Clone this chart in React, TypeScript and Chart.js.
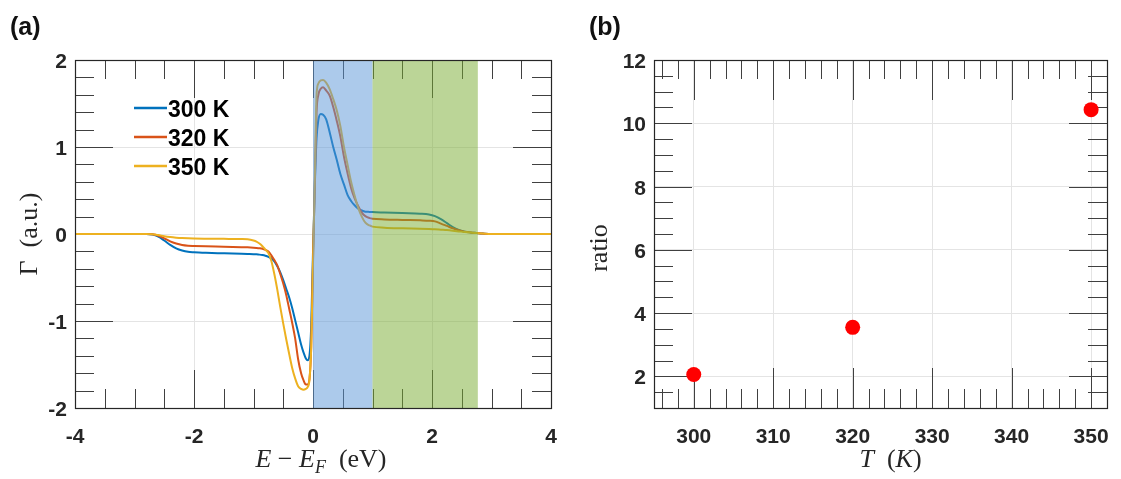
import React, { useEffect, useRef } from "react";
import { Chart, registerables } from "chart.js";
Chart.register(...registerables);

// ---------- data: panel (a) ----------
const energy = [
  -4, -3, -2.8, -2.7, -2.6, -2.5, -2.4, -2.3, -2.2, -2.1, -2.0, -1.8, -1.5, -1.2, -1.1,
  -1.0, -0.95, -0.9, -0.85, -0.8, -0.75, -0.7, -0.65, -0.6, -0.55, -0.5, -0.45, -0.4,
  -0.35, -0.3, -0.25, -0.2, -0.16, -0.12, -0.09, -0.06, -0.03, 0.0, 0.03, 0.06, 0.09,
  0.13, 0.17, 0.22, 0.28, 0.34, 0.4, 0.46, 0.52, 0.58, 0.64, 0.7, 0.76, 0.82, 0.88,
  0.95, 1.0, 1.2, 1.5, 1.8, 1.95, 2.05, 2.15, 2.25, 2.35, 2.45, 2.55, 2.65, 2.75, 2.85,
  3.0, 3.5, 4.0,
];
const gamma300 = [
  0, 0, 0, -0.005, -0.03, -0.075, -0.125, -0.165, -0.19, -0.205, -0.21, -0.216, -0.222, -0.228, -0.23,
  -0.232, -0.234, -0.237, -0.242, -0.25, -0.262, -0.28, -0.315, -0.37, -0.44, -0.53, -0.63, -0.73,
  -0.85, -0.99, -1.13, -1.27, -1.36, -1.43, -1.45, -1.4, -1.05, -0.2, 0.55, 1.1, 1.31,
  1.38, 1.37, 1.32, 1.17, 1.0, 0.85, 0.69, 0.57, 0.45, 0.38, 0.33, 0.29, 0.27, 0.257,
  0.254, 0.252, 0.247, 0.24, 0.234, 0.225, 0.205, 0.17, 0.125, 0.08, 0.048, 0.027, 0.018, 0.012, 0.006,
  0, 0, 0,
];
const gamma320 = [
  0, 0, 0, -0.004, -0.02, -0.05, -0.085, -0.11, -0.127, -0.135, -0.138, -0.142, -0.146, -0.151, -0.153,
  -0.157, -0.16, -0.164, -0.17, -0.182, -0.2, -0.245, -0.3, -0.36, -0.46, -0.57, -0.7, -0.86,
  -1.02, -1.2, -1.44, -1.6, -1.68, -1.73, -1.73, -1.67, -1.3, -0.3, 0.55, 1.4, 1.6,
  1.67, 1.686, 1.65, 1.59, 1.46, 1.3, 1.12, 0.89, 0.7, 0.53, 0.41, 0.32, 0.245, 0.205,
  0.183, 0.176, 0.168, 0.162, 0.157, 0.153, 0.145, 0.12, 0.093, 0.066, 0.043, 0.027, 0.018, 0.012, 0.006,
  0, 0, 0,
];
const gamma350 = [
  0, 0, 0, -0.002, -0.012, -0.025, -0.035, -0.042, -0.047, -0.05, -0.052, -0.054, -0.056, -0.057, -0.06,
  -0.075, -0.088, -0.11, -0.14, -0.18, -0.22, -0.31, -0.46, -0.64, -0.84, -1.03, -1.21, -1.38,
  -1.54, -1.66, -1.75, -1.78, -1.79, -1.78, -1.76, -1.68, -1.3, -0.35, 0.6, 1.6, 1.73,
  1.765, 1.77, 1.74, 1.665, 1.55, 1.42, 1.24, 1.0, 0.8, 0.6, 0.44, 0.3, 0.2, 0.13,
  0.098, 0.085, 0.072, 0.065, 0.061, 0.058, 0.055, 0.05, 0.045, 0.038, 0.03, 0.022, 0.016, 0.011, 0.006,
  0, 0, 0,
];
const seriesLabels = ["300 K", "320 K", "350 K"];
const seriesColors = ["#0072BD", "#D95319", "#EDB120"];
const bandStarts = [0, 1.0];
const bandEnds = [1.0, 2.77];
const bandColors = ["rgba(90,150,215,0.5)", "rgba(119,172,48,0.5)"];
const xTicksA = [-4, -2, 0, 2, 4];
const yTicksA = [-2, -1, 0, 1, 2];

// ---------- data: panel (b) ----------
const temps = [300, 320, 350];
const ratios = [2.06, 3.55, 10.43];
const xTicksB = [300, 310, 320, 330, 340, 350];
const yTicksB = [2, 4, 6, 8, 10, 12];

const TICK_FONT = 'bold 21px "Liberation Sans", Arial, sans-serif';
const DARK = "#262626";

type Seg = { t: string; it?: boolean; sub?: boolean };
function drawRich(ctx: CanvasRenderingContext2D, segs: Seg[], x: number, y: number, size: number, rotate = false) {
  const fontFor = (s: Seg) =>
    `${s.it ? "italic " : ""}${s.sub ? Math.round(size * 0.7) : size}px "Liberation Serif", "Times New Roman", serif`;
  let total = 0;
  const widths = segs.map((s) => {
    ctx.font = fontFor(s);
    const w = ctx.measureText(s.t).width;
    total += w;
    return w;
  });
  ctx.save();
  ctx.translate(x, y);
  if (rotate) ctx.rotate(-Math.PI / 2);
  ctx.textAlign = "left";
  ctx.textBaseline = "alphabetic";
  ctx.fillStyle = DARK;
  let cx = -total / 2;
  segs.forEach((s, i) => {
    ctx.font = fontFor(s);
    ctx.fillText(s.t, cx, s.sub ? size * 0.22 : 0);
    cx += widths[i];
  });
  ctx.restore();
}

function drawTicksAll(chart: any, xStep: number, yStep: number, xMajorLen: number, yMajorLen: number, minorLen: number) {
  const { ctx, chartArea: a, scales } = chart;
  const xs = scales.x;
  const ys = scales.y;
  ctx.save();
  ctx.strokeStyle = "#404040";
  ctx.lineWidth = 1;
  const xMaj = xs.ticks.map((t: any) => t.value);
  const yMaj = ys.ticks.map((t: any) => t.value);
  const isMaj = (arr: number[], v: number) => arr.some((m) => Math.abs(m - v) < 1e-6);
  ctx.beginPath();
  const x0 = Math.ceil(xs.min / xStep - 1e-9);
  for (let i = x0; i * xStep <= xs.max + 1e-9; i++) {
    const v = i * xStep;
    const px = Math.round(xs.getPixelForValue(v)) + 0.5;
    const len = isMaj(xMaj, v) ? xMajorLen : minorLen;
    ctx.moveTo(px, a.bottom);
    ctx.lineTo(px, a.bottom - len);
    ctx.moveTo(px, a.top);
    ctx.lineTo(px, a.top + len);
  }
  const y0 = Math.ceil(ys.min / yStep - 1e-9);
  for (let i = y0; i * yStep <= ys.max + 1e-9; i++) {
    const v = i * yStep;
    const py = Math.round(ys.getPixelForValue(v)) + 0.5;
    const len = isMaj(yMaj, v) ? yMajorLen : minorLen;
    ctx.moveTo(a.left, py);
    ctx.lineTo(a.left + len, py);
    ctx.moveTo(a.right, py);
    ctx.lineTo(a.right - len, py);
  }
  ctx.stroke();
  ctx.restore();
}

function drawFrame(chart: any) {
  const { ctx, chartArea: a } = chart;
  ctx.save();
  ctx.strokeStyle = DARK;
  ctx.lineWidth = 1.2;
  ctx.strokeRect(Math.round(a.left) + 0.5, Math.round(a.top) + 0.5, Math.round(a.right - a.left), Math.round(a.bottom - a.top));
  ctx.restore();
}

function drawTickLabels(chart: any, xGap: number, yGap: number) {
  const { ctx, chartArea: a, scales } = chart;
  ctx.save();
  ctx.font = TICK_FONT;
  ctx.fillStyle = DARK;
  ctx.textBaseline = "alphabetic";
  ctx.textAlign = "center";
  scales.x.ticks.forEach((t: any) => {
    ctx.fillText(String(t.value), scales.x.getPixelForValue(t.value), a.bottom + xGap);
  });
  ctx.textAlign = "right";
  scales.y.ticks.forEach((t: any) => {
    ctx.fillText(String(t.value), a.left - yGap, scales.y.getPixelForValue(t.value) + 8);
  });
  ctx.restore();
}

function drawPanelLabel(ctx: CanvasRenderingContext2D, text: string, x: number, y: number) {
  ctx.save();
  ctx.font = 'bold 25px "Liberation Sans", Arial, sans-serif';
  ctx.fillStyle = "#111";
  ctx.textAlign = "left";
  ctx.textBaseline = "alphabetic";
  ctx.fillText(text, x, y);
  ctx.restore();
}

const panelAPlugin = {
  id: "panelA",
  beforeDatasetsDraw(chart: any) {
    drawTicksAll(chart, 0.5, 0.2, 38, 38, 19);
  },
  afterDatasetsDraw(chart: any) {
    const { ctx, chartArea: a, scales } = chart;
    // shaded energy windows
    ctx.save();
    bandStarts.forEach((s, i) => {
      const l = scales.x.getPixelForValue(s);
      const r = scales.x.getPixelForValue(bandEnds[i]);
      ctx.fillStyle = bandColors[i];
      ctx.fillRect(l, a.top, r - l, a.bottom - a.top);
    });
    ctx.restore();
    drawFrame(chart);
    drawTickLabels(chart, 35, 8);
    // legend
    ctx.save();
    chart.data.datasets.forEach((ds: any, i: number) => {
      const cy = 108 + i * 29;
      ctx.strokeStyle = ds.borderColor;
      ctx.lineWidth = 2.5;
      ctx.beginPath();
      ctx.moveTo(134, cy);
      ctx.lineTo(167, cy);
      ctx.stroke();
      ctx.font = 'bold 23px "Liberation Sans", Arial, sans-serif';
      ctx.fillStyle = "#000";
      ctx.textAlign = "left";
      ctx.textBaseline = "alphabetic";
      ctx.fillText(ds.label, 168, cy + 9);
    });
    ctx.restore();
    drawRich(ctx, [{ t: "E", it: true }, { t: " − " }, { t: "E", it: true }, { t: "F", it: true, sub: true }, { t: "  (eV)" }], (a.left + a.right) / 2 + 8, 467, 26);
    drawRich(ctx, [{ t: "Γ  (a.u.)" }], 37, (a.top + a.bottom) / 2, 26, true);
    drawPanelLabel(ctx, "(a)", 10, 35);
  },
};

const panelBPlugin = {
  id: "panelB",
  beforeDatasetsDraw(chart: any) {
    drawTicksAll(chart, 2, 0.5, 40, 38, 19);
  },
  afterDatasetsDraw(chart: any) {
    const { ctx, chartArea: a } = chart;
    drawFrame(chart);
    drawTickLabels(chart, 35, 8);
    drawRich(ctx, [{ t: "T", it: true }, { t: "  (" }, { t: "K", it: true }, { t: ")" }], (a.left + a.right) / 2 + 10, 467, 26);
    drawRich(ctx, [{ t: "ratio" }], 47, 248, 26, true);
    drawPanelLabel(ctx, "(b)", 29, 35);
  },
};

function fixTicks(values: number[]) {
  return (scale: any) => {
    scale.ticks = values.map((v) => ({ value: v }));
  };
}

function PanelA() {
  const ref = useRef<HTMLCanvasElement>(null);
  useEffect(() => {
    const seriesValues = [gamma300, gamma320, gamma350];
    const chart = new Chart(ref.current!, {
      type: "line",
      data: {
        datasets: seriesValues.map((vals, i) => ({
          label: seriesLabels[i],
          data: energy.map((e, k) => ({ x: e, y: vals[k] })),
          borderColor: seriesColors[i],
          backgroundColor: seriesColors[i],
          borderWidth: 2,
          pointRadius: 0,
          cubicInterpolationMode: "monotone" as const,
          order: 2 - i,
        })),
      },
      options: {
        responsive: false,
        animation: false,
        events: [],
        layout: { padding: { top: 60, right: 9, left: 0, bottom: 0 } },
        plugins: { legend: { display: false }, tooltip: { enabled: false } },
        scales: {
          x: {
            type: "linear",
            min: -4,
            max: 4,
            afterBuildTicks: fixTicks(xTicksA),
            afterFit: (s: any) => { s.height = 71; },
            ticks: { display: false },
            grid: { color: "#e4e4e4", drawTicks: false },
            border: { display: false },
          },
          y: {
            type: "linear",
            min: -2,
            max: 2,
            afterBuildTicks: fixTicks(yTicksA),
            afterFit: (s: any) => { s.width = 75; },
            ticks: { display: false },
            grid: { color: "#e4e4e4", drawTicks: false },
            border: { display: false },
          },
        },
      },
      plugins: [panelAPlugin],
    });
    return () => chart.destroy();
  }, []);
  return <canvas ref={ref} width={560} height={479} style={{ position: "absolute", left: 0, top: 0, width: 560, height: 479 }} />;
}

function PanelB() {
  const ref = useRef<HTMLCanvasElement>(null);
  useEffect(() => {
    const chart = new Chart(ref.current!, {
      type: "scatter",
      data: {
        datasets: [
          {
            label: "ratio",
            data: temps.map((t, k) => ({ x: t, y: ratios[k] })),
            backgroundColor: "#FF0000",
            borderWidth: 0,
            pointRadius: 7.5,
          },
        ],
      },
      options: {
        responsive: false,
        animation: false,
        events: [],
        layout: { padding: { top: 60, right: 14, left: 0, bottom: 0 } },
        plugins: { legend: { display: false }, tooltip: { enabled: false } },
        scales: {
          x: {
            type: "linear",
            min: 295,
            max: 352,
            afterBuildTicks: fixTicks(xTicksB),
            afterFit: (s: any) => { s.height = 71; },
            ticks: { display: false },
            grid: { color: "#e4e4e4", drawTicks: false },
            border: { display: false },
          },
          y: {
            type: "linear",
            min: 1,
            max: 12,
            afterBuildTicks: fixTicks(yTicksB),
            afterFit: (s: any) => { s.width = 94; },
            ticks: { display: false },
            grid: { color: "#e4e4e4", drawTicks: false },
            border: { display: false },
          },
        },
      },
      plugins: [panelBPlugin],
    });
    return () => chart.destroy();
  }, []);
  return <canvas ref={ref} width={561} height={479} style={{ position: "absolute", left: 560, top: 0, width: 561, height: 479 }} />;
}

export default function App() {
  return (
    <div style={{ position: "fixed", left: 0, top: 0, width: 1121, height: 479, background: "#fff", overflow: "hidden" }}>
      <PanelA />
      <PanelB />
    </div>
  );
}
